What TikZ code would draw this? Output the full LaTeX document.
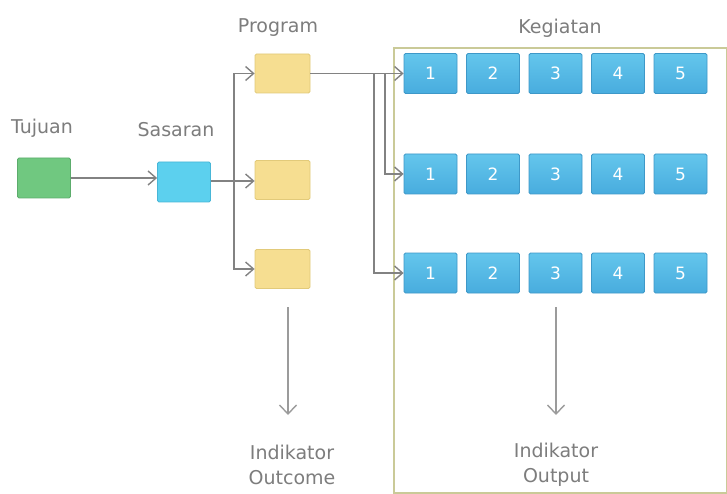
\documentclass[tikz,border=0pt]{standalone}
\usepackage{fontspec}
\setmainfont{DejaVu Sans}
\usetikzlibrary{arrows.meta}
\definecolor{txt}{RGB}{125,125,125}
\definecolor{linegray}{RGB}{130,130,130}
\definecolor{gfill}{RGB}{112,200,128}
\definecolor{gdraw}{RGB}{92,172,108}
\definecolor{cfill}{RGB}{92,208,238}
\definecolor{cdraw}{RGB}{72,182,215}
\definecolor{yfill}{RGB}{246,222,145}
\definecolor{ydraw}{RGB}{226,202,122}
\definecolor{ktop}{RGB}{100,198,236}
\definecolor{kbot}{RGB}{72,172,222}
\definecolor{kdraw}{RGB}{62,152,200}
\definecolor{framec}{RGB}{202,202,152}
\begin{document}
\begin{tikzpicture}[x=1pt,y=-1pt,
  lab/.style={text=txt,font=\fontsize{19}{25}\selectfont,align=center,inner sep=0pt},
  basebox/.style={minimum width=53pt,minimum height=40pt,inner sep=0pt,rounded corners=1.5pt,line width=0.8pt},
  greenbox/.style={basebox,fill=gfill,draw=gdraw},
  cyanbox/.style={basebox,fill=cfill,draw=cdraw},
  yellowbox/.style={basebox,minimum width=55pt,minimum height=39pt,fill=yfill,draw=ydraw},
  kbox/.style={basebox,top color=ktop,bottom color=kbot,draw=kdraw,text=white,font=\fontsize{17}{17}\selectfont},
  framebox/.style={draw=framec,line width=2.2pt,inner sep=0pt},
  conn/.style={draw=linegray,line width=1.8pt,-{Straight Barb[length=8pt,width=14pt,line width=1.4pt]}},
  plain/.style={draw=linegray,line width=2.8pt},
  down/.style={draw=linegray!80,line width=1.5pt,-{Straight Barb[length=9pt,width=17pt,line width=1.4pt]}}
]
\fill[white] (0,0) rectangle (727,494);
\useasboundingbox (0,0) rectangle (727,494);

% labels
\node[lab] (ltuj) at (42,128) {Tujuan};
\node[lab] (lsas) at (176,130) {Sasaran};
\node[lab] (lprog) at (278,28) {Program};
\node[lab] (lkeg) at (560,28) {Kegiatan};

% frame
\node[framebox,minimum width=333pt,minimum height=445pt,anchor=north west] (frame) at (393,47) {};

% boxes
\node[greenbox] (tuj) at (44,178) {};
\node[cyanbox] (sas) at (184,182) {};
\node[yellowbox] (p1) at (282.5,73.5) {};
\node[yellowbox] (p2) at (282.5,180) {};
\node[yellowbox] (p3) at (282.5,269) {};

\foreach \r/\yy in {1/73.5,2/174,3/273}{
  \foreach \i in {1,...,5}{
    \node[kbox] (k\r\i) at ({430.5+(\i-1)*62.5},\yy) {\i};
  }
}

% connectors
\draw[conn] (tuj.east) -- (tuj.east -| sas.west);
\coordinate (br) at (234,181);
\draw[plain] (sas.east |- br) -- (br);
\draw[conn] (br) -- (p2.west |- br);
\draw[conn] (br) |- (p1.west);
\draw[conn] (br) |- (p3.west);

\draw[conn] (p1.east) -- (k11.west);
\coordinate (b2) at (385,73.5);
\coordinate (b3) at (374,73.5);
\draw[conn] (b2) |- (k21.west);
\draw[conn] (b3) |- (k31.west);

% indicators
\coordinate (o1) at (288,307);
\coordinate (o2) at (288,415);
\coordinate (q1) at (556,307);
\coordinate (q2) at (556,415);
\draw[down] (o1) -- (o2);
\draw[down] (q1) -- (q2);
\node[lab] (iout) at (292,465) {Indikator\\Outcome};
\node[lab] (iop) at (556,465) {Indikator\\Output};
\end{tikzpicture}
\end{document}
